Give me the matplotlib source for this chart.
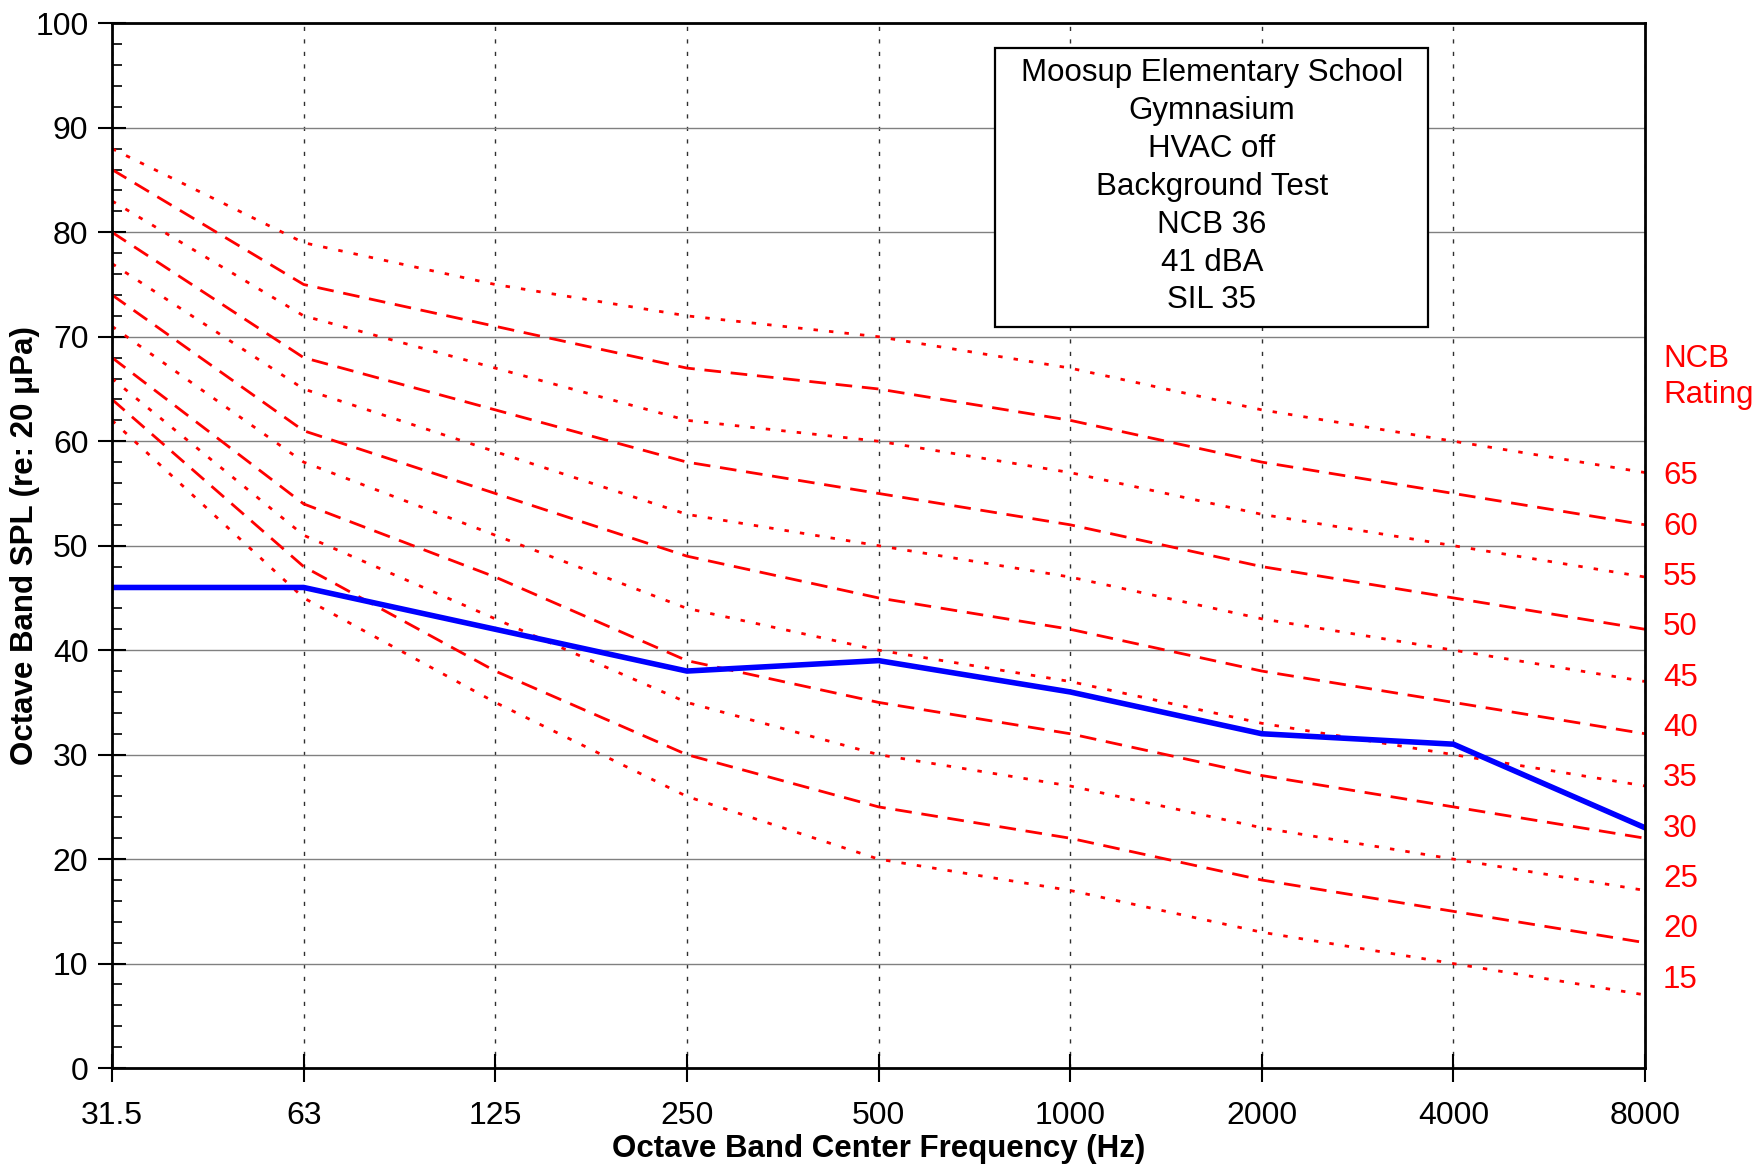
import matplotlib
matplotlib.use('Agg')
import matplotlib.pyplot as plt
from matplotlib.patches import Rectangle
from matplotlib.ticker import MultipleLocator

plt.rcParams['font.family'] = ['Liberation Sans', 'DejaVu Sans']

freq_labels = ['31.5', '63', '125', '250', '500', '1000', '2000', '4000', '8000']

# NCB reference curves
ncb_65 = [88, 79, 75, 72, 70, 67, 63, 60, 57]
ncb_60 = [86, 75, 71, 67, 65, 62, 58, 55, 52]
ncb_55 = [83, 72, 67, 62, 60, 57, 53, 50, 47]
ncb_50 = [80, 68, 63, 58, 55, 52, 48, 45, 42]
ncb_45 = [77, 65, 59, 53, 50, 47, 43, 40, 37]
ncb_40 = [74, 61, 55, 49, 45, 42, 38, 35, 32]
ncb_35 = [71, 58, 51, 44, 40, 37, 33, 30, 27]
ncb_30 = [68, 54, 47, 39, 35, 32, 28, 25, 22]
ncb_25 = [66, 51, 43, 35, 30, 27, 23, 20, 17]
ncb_20 = [64, 48, 38, 30, 25, 22, 18, 15, 12]
ncb_15 = [62, 45, 35, 26, 20, 17, 13, 10, 7]
ncb_ratings = [65, 60, 55, 50, 45, 40, 35, 30, 25, 20, 15]
ncb_curves = [ncb_65, ncb_60, ncb_55, ncb_50, ncb_45, ncb_40,
              ncb_35, ncb_30, ncb_25, ncb_20, ncb_15]

# measured background
measured = [46, 46, 42, 38, 39, 36, 32, 31, 23]

info_lines = ['Moosup Elementary School', 'Gymnasium', 'HVAC off',
              'Background Test', 'NCB 36', '41 dBA', 'SIL 35']

fig = plt.figure(figsize=(17.56, 11.66), dpi=100)
ax = fig.add_axes([0.0638, 0.084, 0.873, 0.896])

x = list(range(len(freq_labels)))

for rating, curve in zip(ncb_ratings, ncb_curves):
    if rating % 10 == 0:
        dash = (6, 3.5)
    else:
        dash = (1.6, 4.0)
    ax.plot(x, curve, color='#ff0000', lw=2.0, dashes=dash,
            dash_capstyle='butt', zorder=3)

ax.plot(x, measured, color='#0000ff', lw=4.0, solid_joinstyle='round', zorder=4)

ax.set_xlim(0, 8)
ax.set_ylim(0, 100)
ax.set_xticks(x)
ax.set_xticklabels(freq_labels)
ax.yaxis.set_major_locator(MultipleLocator(10))
ax.yaxis.set_minor_locator(MultipleLocator(2))

ax.grid(axis='y', which='major', color='#808080', lw=1.0, zorder=1)
ax.grid(axis='x', which='major', color='#303030', lw=1.0, ls=(0, (3, 6)), zorder=1)

ax.tick_params(axis='both', which='major', direction='inout', length=20, width=1.5,
               labelsize=23, pad=7)
ax.tick_params(axis='y', which='minor', direction='in', length=7, width=1.2)
ax.tick_params(axis='x', which='major', pad=14)

for spine in ax.spines.values():
    spine.set_linewidth(2.0)
    spine.set_color('black')
    spine.set_zorder(5)

ax.set_xlabel('Octave Band Center Frequency (Hz)', fontsize=22.5, fontweight='bold')
ax.set_ylabel('Octave Band SPL (re: 20 μPa)', fontsize=22.5, fontweight='bold')
ax.xaxis.set_label_coords(0.5, -0.0775)
ax.xaxis.label.set_va('center')
ax.yaxis.set_label_coords(-0.0568, 0.5)
ax.yaxis.label.set_va('center')

# info box
ax.add_patch(Rectangle((4.61, 70.9), 2.26, 26.7, facecolor='white',
                       edgecolor='black', lw=1.6, zorder=6))
for i, line in enumerate(info_lines):
    ax.text(5.74, 95.2 - i * 3.62, line, ha='center', va='center',
            fontsize=22.5, zorder=7)

# NCB rating labels on the right
ax.text(8.094, 67.9, 'NCB', color='#ff0000', fontsize=22.5, ha='left', va='center', clip_on=False)
ax.text(8.094, 64.4, 'Rating', color='#ff0000', fontsize=22.5, ha='left', va='center', clip_on=False)
for i, rating in enumerate(ncb_ratings):
    ax.text(8.094, 56.65 - i * 4.82, str(rating), color='#ff0000', fontsize=22.5,
            ha='left', va='center', clip_on=False)

fig.savefig('out.png', dpi=100)
